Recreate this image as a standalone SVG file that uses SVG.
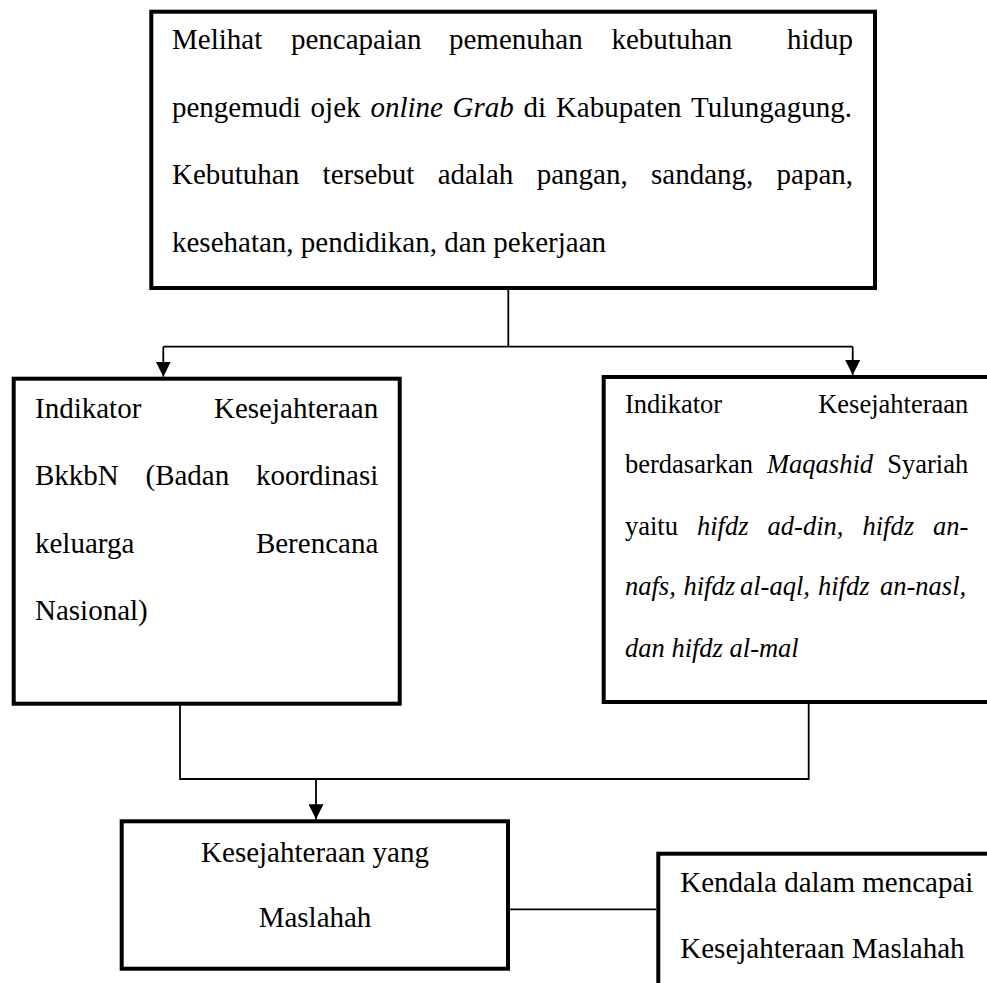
<svg xmlns="http://www.w3.org/2000/svg" width="987" height="983" viewBox="0 0 987 983">
<style>
.box{fill:#fff;stroke:#000;stroke-width:4}
.t{font-family:"Liberation Serif","Times New Roman",serif;font-size:29px;fill:#000}
.s{font-size:26.5px}
.i{font-style:italic}
.c{fill:none;stroke:#000;stroke-width:1.8}
</style>
<defs>
<marker id="ah" markerUnits="userSpaceOnUse" markerWidth="15" markerHeight="15" refX="15" refY="7.5" orient="auto" viewBox="0 0 15 15">
<path d="M0,0 L15,7.5 L0,15 z" fill="#000"/>
</marker>
</defs>
<rect width="987" height="983" fill="#fff"/>
<g id="connectors">
<polyline class="c" points="508.3,290 508.3,346.7"/>
<polyline class="c" points="163.3,346.7 852.7,346.7"/>
<line class="c" x1="163.3" y1="346.7" x2="163.3" y2="376.7" marker-end="url(#ah)"/>
<line class="c" x1="852.7" y1="346.7" x2="852.7" y2="375" marker-end="url(#ah)"/>
<polyline class="c" points="180,705 180,779 808.7,779 808.7,704"/>
<line class="c" x1="316" y1="779" x2="316" y2="819.3" marker-end="url(#ah)"/>
<line class="c" x1="510" y1="909.3" x2="656.3" y2="909.3"/>
</g>
<g id="node-top">
<rect class="box" x="151.3" y="11.7" width="723.7" height="276.3"/>
<text class="t" y="49"><tspan x="172">Melihat</tspan><tspan x="291">pencapaian</tspan><tspan x="449">pemenuhan</tspan><tspan x="611.5">kebutuhan</tspan><tspan x="787">hidup</tspan></text>
<text class="t" y="116.5"><tspan x="172">pengemudi</tspan><tspan x="310.6">ojek</tspan><tspan x="370.4" class="i">online</tspan><tspan x="452.6" class="i">Grab</tspan><tspan x="523.6">di</tspan><tspan x="555.9">Kabupaten</tspan><tspan x="691.1">Tulungagung.</tspan></text>
<text class="t" y="184"><tspan x="172">Kebutuhan</tspan><tspan x="322.6">tersebut</tspan><tspan x="437.7">adalah</tspan><tspan x="536.7">pangan,</tspan><tspan x="651">sandang,</tspan><tspan x="776.6">papan,</tspan></text>
<text class="t" x="172" y="251.5">kesehatan, pendidikan, dan pekerjaan</text>
</g>
<g id="node-bkkbn">
<rect class="box" x="13.7" y="378.7" width="386" height="325"/>
<text class="t" y="417.5"><tspan x="35">Indikator</tspan><tspan x="214">Kesejahteraan</tspan></text>
<text class="t" y="485"><tspan x="35">BkkbN</tspan><tspan x="145.5">(Badan</tspan><tspan x="255.9">koordinasi</tspan></text>
<text class="t" y="552.5"><tspan x="35">keluarga</tspan><tspan x="255.9">Berencana</tspan></text>
<text class="t" x="35" y="620">Nasional)</text>
</g>
<g id="node-maqashid">
<rect class="box" x="603.7" y="377" width="400" height="325"/>
<text class="t s" y="413.3"><tspan x="625">Indikator</tspan><tspan x="818.2">Kesejahteraan</tspan></text>
<text class="t s" y="473.3"><tspan x="625">berdasarkan</tspan><tspan x="767" class="i">Maqashid</tspan><tspan x="887.3">Syariah</tspan></text>
<text class="t s" y="535"><tspan x="625">yaitu</tspan><tspan x="697" class="i">hifdz</tspan><tspan x="767.6" class="i">ad-din,</tspan><tspan x="862.5" class="i">hifdz</tspan><tspan x="933" class="i">an-</tspan></text>
<text class="t s i" y="595"><tspan x="625">nafs,</tspan><tspan x="683.5">hifdz</tspan><tspan x="740">al-aql,</tspan><tspan x="818">hifdz</tspan><tspan x="880">an-nasl,</tspan></text>
<text class="t s i" x="625" y="656.7">dan hifdz al-mal</text>
</g>
<g id="node-maslahah">
<rect class="box" x="121.7" y="821.3" width="386.3" height="147.4"/>
<text class="t" x="315" y="861.7" text-anchor="middle">Kesejahteraan yang</text>
<text class="t" x="315" y="926.7" text-anchor="middle">Maslahah</text>
</g>
<g id="node-kendala">
<rect class="box" x="658.3" y="853.7" width="400" height="200"/>
<text class="t" x="680.3" y="891.7">Kendala dalam mencapai</text>
<text class="t" x="680.3" y="958.3">Kesejahteraan Maslahah</text>
</g>
</svg>
